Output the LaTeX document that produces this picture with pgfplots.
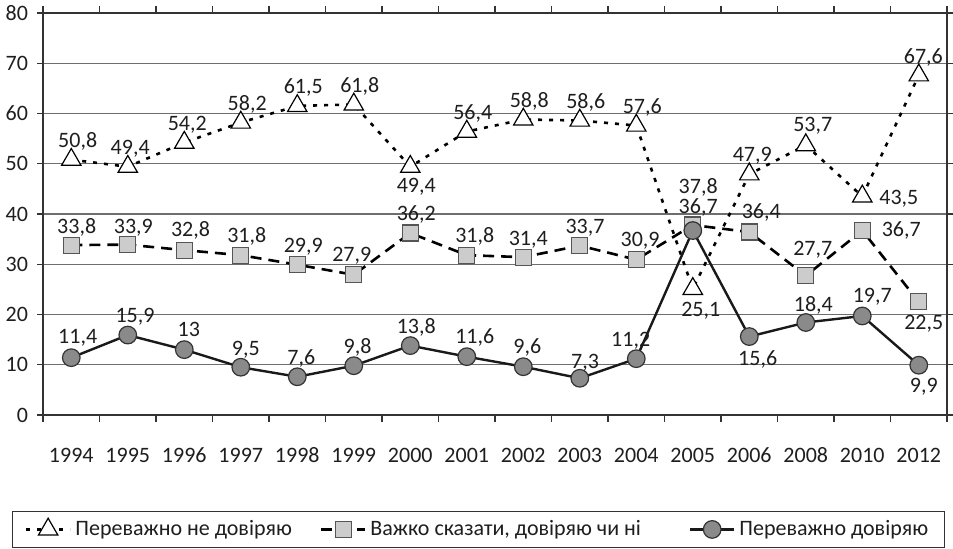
\documentclass[border=0pt]{standalone}
\usepackage{pgfplots}
\pgfplotsset{compat=1.18}
\usepackage{pgfplotstable}
\usepackage{fontspec}
\setmainfont{Carlito}
\definecolor{txt}{HTML}{1E1E1E}
\definecolor{gridc}{HTML}{6E6E6E}
\definecolor{axc}{HTML}{333333}
\definecolor{sqfill}{HTML}{CCCCCC}
\definecolor{sqdraw}{HTML}{555555}
\definecolor{cifill}{HTML}{8A8A8A}
\definecolor{cidraw}{HTML}{333333}

\pgfplotstableread{
x y lab dx dy
0 50.8 50,8 3.2 6
1 49.4 49,4 1.2 5.9
2 54.2 54,2 1.5 6
3 58.2 58,2 3.2 5.8
4 61.5 61,5 3 6
5 61.8 61,8 3 6
6 49.4 49,4 3 -13
7 56.4 56,4 3 6
8 58.8 58,8 3 6
9 58.6 58,6 3 6
10 57.6 57,6 3 6
11 25.1 25,1 4 -14
12 47.9 47,9 1.5 6.6
13 53.7 53,7 3.5 6.7
14 43.5 43,5 18.3 -4.3
15 67.6 67,6 2.3 6
}\tA

\pgfplotstableread{
x y lab dx dy
0 33.8 33,8 2.7 6
1 33.9 33,9 2.8 5.7
2 32.8 32,8 3.1 6.7
3 31.8 31,8 3 6.5
4 29.9 29,9 3 6
5 27.9 27,9 -1 6.5
6 36.2 36,2 3 6.5
7 31.8 31,8 4 6.2
8 31.4 31,4 2.5 5.8
9 33.7 33,7 2.6 6.2
10 30.9 30,9 1.9 6.5
11 37.8 37,8 2.7 16
12 36.4 36,4 6 7
13 27.7 27,7 3.5 10
14 36.7 36,7 19.5 -3.2
15 22.5 22,5 2.5 -14
}\tB

\pgfplotstableread{
x y lab dx dy
0 11.4 11,4 3.2 6.9
1 15.9 15,9 3.6 6.4
2 13 13 2.3 6.5
3 9.5 9,5 2.5 6.1
4 7.6 7,6 2 5.9
5 9.8 9,8 1.9 6.2
6 13.8 13,8 3 6.2
7 11.6 11,6 4 6.7
8 9.6 9,6 2 6.4
9 7.3 7,3 2.6 5
10 11.2 11,2 -2.8 6
11 36.7 36,7 2.7 8.6
12 15.6 15,6 4.2 -14.5
13 18.4 18,4 3.8 5.4
14 19.7 19,7 5 6.8
15 9.9 9,9 2.5 -13.7
}\tC

\newcommand{\lbfont}{\fontsize{11pt}{13pt}\selectfont}
\begin{document}
\begin{tikzpicture}[font=\lbfont, text=txt]
\begin{axis}[
  scale only axis,
  width=452pt, height=201pt,
  xmin=-0.5, xmax=15.5,
  ymin=0, ymax=80,
  ytick={0,10,...,80},
  xtick={0,...,15},
  xticklabels={1994,1995,1996,1997,1998,1999,2000,2001,2002,2003,2004,2005,2006,2008,2010,2012},
  minor xtick={-0.5,0.5,...,15.5},
  major x tick style={draw=none},
  tick align=outside,
  major tick length=3pt,
  minor tick length=3.5pt,
  tick style={axc, line width=0.6pt},
  ymajorgrids,
  grid style={gridc, line width=0.6pt},
  axis line style={axc, line width=0.8pt},
  /pgf/number format/assume math mode=true,
  ticklabel style={font=\lbfont, text=txt},
  yticklabel style={xshift=-1pt},
  xticklabel style={anchor=base, yshift=-21pt},
  clip=false,
  legend columns=3,
  legend style={at={(0.4817,-0.2848)}, anchor=center, draw=axc, line width=0.6pt,
    font=\lbfont, inner xsep=6pt, inner ysep=2.5pt,
    /tikz/column 2/.style={column sep=12pt},
    /tikz/column 4/.style={column sep=22pt}},
  legend image code/.code={\draw[mark repeat=2,mark phase=2] plot coordinates {(0pt,0pt) (11pt,0pt) (22pt,0pt)};},
  point meta=explicit symbolic,
  nodes near coords,
  visualization depends on={\thisrow{dx} \as \ldx},
  visualization depends on={\thisrow{dy} \as \ldy},
  every node near coord/.append style={anchor=base, xshift=\ldx pt, yshift=\ldy pt, text=txt, font=\lbfont, inner sep=0pt},
]
\addplot[black, line width=1.3pt, dash pattern=on 2pt off 3.5pt,
  mark=triangle*, mark size=5.6pt,
  mark options={solid, fill=white, draw=black, line width=0.6pt}]
  table[x=x, y=y, meta=lab] {\tA};
\addlegendentry{Переважно не довіряю}
\addplot[black, line width=1.3pt, dash pattern=on 5.5pt off 3.5pt,
  mark=square*, mark size=4pt,
  mark options={solid, fill=sqfill, draw=sqdraw, line width=0.6pt}]
  table[x=x, y=y, meta=lab] {\tB};
\addlegendentry{Важко сказати, довіряю чи ні}
\addplot[black!90, line width=1.2pt, solid,
  mark=*, mark size=4.4pt,
  mark options={solid, fill=cifill, draw=cidraw, line width=0.6pt}]
  table[x=x, y=y, meta=lab] {\tC};
\addlegendentry{Переважно довіряю}
\coordinate (bbl) at (rel axis cs:-0.0476,-0.331);
\coordinate (btr) at (rel axis cs:1.0066,1.0323);
\end{axis}
\pgfresetboundingbox
\path (bbl) rectangle (btr);
\end{tikzpicture}
\end{document}
